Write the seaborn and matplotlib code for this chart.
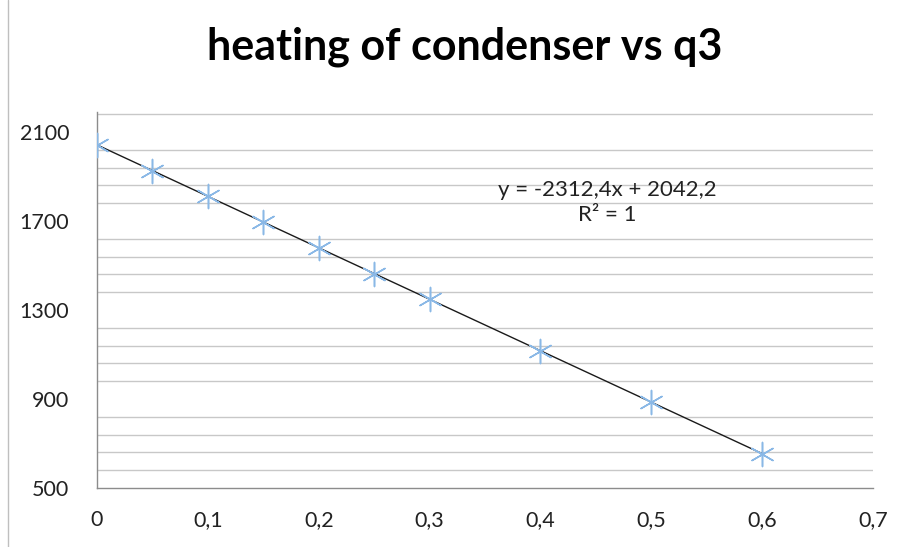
import numpy as np
import seaborn as sns
import matplotlib.pyplot as plt
from matplotlib.ticker import FuncFormatter

# data
q3 = [0, 0.05, 0.1, 0.15, 0.2, 0.25, 0.3, 0.4, 0.5, 0.6]
heating = [2042, 1927, 1811, 1695, 1580, 1464, 1349, 1117, 885, 655]
title = "heating of condenser vs q3"
y_ticks = [500, 900, 1300, 1700, 2100]
x_ticks = [0, 0.1, 0.2, 0.3, 0.4, 0.5, 0.6, 0.7]

sns.set_theme(style="white")
plt.rcParams['font.family'] = ['Lato', 'DejaVu Sans']

fig = plt.figure(figsize=(9.05, 5.47), dpi=100)
ax = fig.add_axes([97 / 905, 1 - 488 / 547, 776 / 905, 376 / 547])

# trendline
slope, intercept = np.polyfit(q3, heating, 1)
fit_x = np.array([min(q3), max(q3)])
sns.lineplot(x=fit_x, y=slope * fit_x + intercept, ax=ax, color="#1a1a1a", linewidth=1, zorder=2)

# markers
sns.scatterplot(x=q3, y=heating, ax=ax, marker=(6, 2, 0), s=300, color="#8ab8e6",
                linewidth=1.1, edgecolor="#8ab8e6", zorder=3)

ax.set_xlim(0, 0.7)
ax.set_ylim(500, 2190)
ax.set_xticks(x_ticks)
ax.set_yticks(y_ticks)
ax.set_yticks(np.arange(500, 2190, 80), minor=True)
ax.xaxis.set_major_formatter(FuncFormatter(lambda v, p: ("%g" % round(v, 1)).replace(".", ",")))
ax.grid(which="minor", axis="y", color="#c8c8c8", linewidth=1)
ax.set_axisbelow(True)

for s in ["top", "right"]:
    ax.spines[s].set_visible(False)
for s in ["left", "bottom"]:
    ax.spines[s].set_color("#8c8c8c")
    ax.spines[s].set_linewidth(1)
ax.tick_params(axis="both", which="major", direction="out", length=7, width=1,
               color="#8c8c8c", labelsize=15.5, labelcolor="#222222")
ax.tick_params(axis="x", which="major", pad=9)
ax.tick_params(axis="y", which="major", pad=13)
ax.tick_params(axis="both", which="minor", length=0)
ax.set_xlabel("")
ax.set_ylabel("")

ax.text(0.46, 1839, "y = -2312,4x + 2042,2", ha="center", va="center", fontsize=16, color="#222222")
ax.text(0.46, 1727, "R² = 1", ha="center", va="center", fontsize=16, color="#222222")

fig.text(465 / 905, 1 - 47 / 547, title, ha="center", va="center", fontsize=31, fontweight="bold", color="black")

# chart area border on the left
fig.add_artist(plt.Line2D([8 / 905, 8 / 905], [0, 1], transform=fig.transFigure, color="#bfbfbf", linewidth=1))

fig.savefig("out.png", dpi=100)
